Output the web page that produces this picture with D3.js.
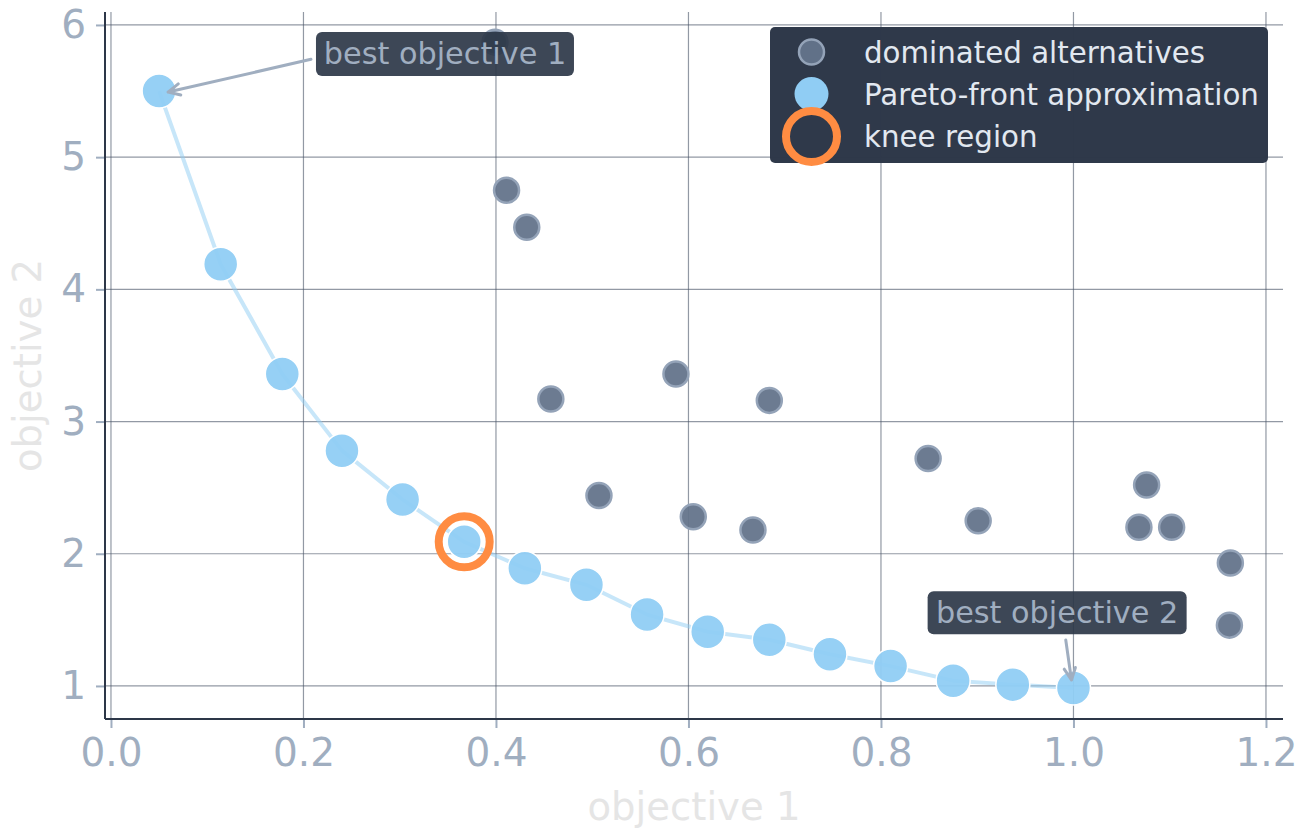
<!DOCTYPE html>
<html>
<head>
<meta charset="utf-8">
<script src="https://cdn.jsdelivr.net/npm/d3@7/dist/d3.min.js"></script>
<style>
  html, body { margin: 0; padding: 0; background: #ffffff; }
  svg { display: block; font-family: "DejaVu Sans", sans-serif; }
</style>
</head>
<body>
<svg id="chart" width="1309" height="839"></svg>
<script>
// ---- data ----
const paretoX = [0.05, 0.114, 0.178, 0.240, 0.303, 0.367, 0.430, 0.494, 0.557, 0.620, 0.684, 0.747, 0.810, 0.875, 0.937, 1.0];
const paretoY = [5.50, 4.19, 3.36, 2.78, 2.41, 2.09, 1.89, 1.765, 1.54, 1.41, 1.35, 1.24, 1.15, 1.04, 1.01, 0.985];

const domX = [0.399, 0.411, 0.432, 0.457, 0.587, 0.684, 0.507, 0.605, 0.667, 0.849, 0.901, 1.076, 1.068, 1.102, 1.163, 1.162];
const domY = [5.87, 4.75, 4.47, 3.17, 3.36, 3.16, 2.44, 2.28, 2.18, 2.72, 2.25, 2.52, 2.20, 2.20, 1.93, 1.46];

const kneeX = [0.367];
const kneeY = [2.09];

const xTicks = [0.0, 0.2, 0.4, 0.6, 0.8, 1.0, 1.2];
const yTicks = [1, 2, 3, 4, 5, 6];

const legendLabels = ["dominated alternatives", "Pareto-front approximation", "knee region"];
const annoLabels = ["best objective 1", "best objective 2"];

// ---- layout ----
const svg = d3.select("#chart");
const L = 105, R = 1283, T = 12, B = 719;
const x = d3.scaleLinear().domain([-0.0062, 1.2177]).range([L, R]);
const y = d3.scaleLinear().domain([0.75, 6.098]).range([B, T]);

const tickColor = "#a0aec0";
const gridColor = "#4a5568";

// grid
const grid = svg.append("g");
grid.selectAll("line.vx").data(xTicks).enter().append("line")
  .attr("x1", d => x(d)).attr("x2", d => x(d)).attr("y1", T).attr("y2", B)
  .attr("stroke", gridColor).attr("stroke-opacity", 0.6).attr("stroke-width", 1.2);
grid.selectAll("line.hy").data(yTicks).enter().append("line")
  .attr("y1", d => y(d)).attr("y2", d => y(d)).attr("x1", L).attr("x2", R)
  .attr("stroke", gridColor).attr("stroke-opacity", 0.6).attr("stroke-width", 1.2);

// axes
const xAxis = d3.axisBottom(x).tickValues(xTicks).tickFormat(d3.format(".1f")).tickSize(9).tickPadding(10);
const yAxis = d3.axisLeft(y).tickValues(yTicks).tickFormat(d3.format("d")).tickSize(9).tickPadding(10);

const gx = svg.append("g").attr("transform", `translate(0,${B})`).call(xAxis);
const gy = svg.append("g").attr("transform", `translate(${L},0)`).call(yAxis);
[gx, gy].forEach(g => {
  g.select(".domain").remove();
  g.selectAll(".tick line").attr("stroke", tickColor).attr("stroke-width", 2);
  g.selectAll(".tick text").attr("fill", tickColor).attr("font-size", 39)
    .attr("font-family", "DejaVu Sans, sans-serif");
});
gx.selectAll(".tick text").attr("dy", "0.71em");

// pareto line
const line = d3.line().x(d => x(d[0])).y(d => y(d[1]));
const pts = paretoX.map((v, i) => [v, paretoY[i]]);
svg.append("path").datum(pts).attr("d", line)
  .attr("fill", "none").attr("stroke", "#90cdf4").attr("stroke-opacity", 0.5)
  .attr("stroke-width", 4).attr("stroke-linejoin", "round");

// dominated
svg.append("g").selectAll("circle").data(domX.map((v, i) => [v, domY[i]])).enter().append("circle")
  .attr("cx", d => x(d[0])).attr("cy", d => y(d[1])).attr("r", 12.5)
  .attr("fill", "#64748b").attr("fill-opacity", 0.95)
  .attr("stroke", "#94a3b8").attr("stroke-width", 2.5);

// pareto points
svg.append("g").selectAll("circle").data(pts).enter().append("circle")
  .attr("cx", d => x(d[0])).attr("cy", d => y(d[1])).attr("r", 17)
  .attr("fill", "#90cdf4").attr("fill-opacity", 0.95)
  .attr("stroke", "#ffffff").attr("stroke-width", 1.5);

// knee
svg.append("g").selectAll("circle").data(kneeX.map((v, i) => [v, kneeY[i]])).enter().append("circle")
  .attr("cx", d => x(d[0])).attr("cy", d => y(d[1])).attr("r", 25.5)
  .attr("fill", "none").attr("stroke", "#ff8c42").attr("stroke-width", 8);

// spines
svg.append("line").attr("x1", L).attr("x2", L).attr("y1", T).attr("y2", B)
  .attr("stroke", "#2d3748").attr("stroke-width", 2);
svg.append("line").attr("x1", L).attr("x2", R).attr("y1", B).attr("y2", B)
  .attr("stroke", "#2d3748").attr("stroke-width", 2);

// annotations
function arrow(g, x1, y1, x2, y2) {
  const ang = Math.atan2(y2 - y1, x2 - x1);
  const hl = 13, ha = 0.45;
  const p1 = [x2 - hl * Math.cos(ang - ha), y2 - hl * Math.sin(ang - ha)];
  const p2 = [x2 - hl * Math.cos(ang + ha), y2 - hl * Math.sin(ang + ha)];
  g.append("path")
    .attr("d", `M${x1},${y1}L${x2},${y2}M${p1[0]},${p1[1]}L${x2},${y2}L${p2[0]},${p2[1]}`)
    .attr("fill", "none").attr("stroke", "#a0aec0").attr("stroke-width", 3)
    .attr("stroke-linecap", "round").attr("stroke-linejoin", "round");
}
const anno = svg.append("g");
const a1 = { bx: 0.213, tipX: paretoX[0], tipY: paretoY[0] };
const a2 = { bx: 0.849, tipX: paretoX[paretoX.length - 1], tipY: paretoY[paretoY.length - 1] };
function annoBox(text, cx, cyTop, w, h) {
  anno.append("rect").attr("x", cx).attr("y", cyTop).attr("width", w).attr("height", h)
    .attr("rx", 6).attr("fill", "#2d3748").attr("fill-opacity", 0.92);
  anno.append("text").attr("x", cx + w / 2).attr("y", cyTop + h / 2 + 10.5)
    .attr("text-anchor", "middle").attr("font-size", 30.3).attr("fill", "#a0aec0").text(text);
}
arrow(anno, x(a1.bx) - 5, y(5.74), x(a1.tipX) + 9, y(a1.tipY) + 1);
annoBox(annoLabels[0], x(a1.bx), y(6.0) + 7, 258, 44);
arrow(anno, x(0.992), 640, x(a2.tipX) - 2, y(a2.tipY) - 8);
annoBox(annoLabels[1], x(a2.bx) - 0.5, y(1.717), 259, 43);

// legend
const lg = svg.append("g");
lg.append("rect").attr("x", 770).attr("y", 27).attr("width", 498).attr("height", 136)
  .attr("rx", 5).attr("fill", "#2d3748").attr("fill-opacity", 0.99);
const ly = [52, 94, 136.5];
lg.append("circle").attr("cx", 811.5).attr("cy", ly[0]).attr("r", 12.5)
  .attr("fill", "#64748b").attr("fill-opacity", 0.95).attr("stroke", "#94a3b8").attr("stroke-width", 2.5);
lg.append("circle").attr("cx", 811.5).attr("cy", ly[1]).attr("r", 17).attr("fill", "#90cdf4");
lg.append("circle").attr("cx", 811.5).attr("cy", ly[2]).attr("r", 25.5)
  .attr("fill", "none").attr("stroke", "#ff8c42").attr("stroke-width", 8);
lg.selectAll("text").data(legendLabels).enter().append("text")
  .attr("x", 864).attr("y", (d, i) => ly[i] + 10.5)
  .attr("font-size", 29.3).attr("fill", "#e2e8f0").text(d => d);

// axis labels
svg.append("text").attr("x", (L + R) / 2).attr("y", 820).attr("text-anchor", "middle")
  .attr("font-size", 38.6).attr("fill", "#e5e5e5").text("objective 1");
svg.append("text").attr("transform", `translate(41,${(T + B) / 2}) rotate(-90)`)
  .attr("text-anchor", "middle").attr("font-size", 38.6).attr("fill", "#e5e5e5").text("objective 2");
</script>
</body>
</html>
